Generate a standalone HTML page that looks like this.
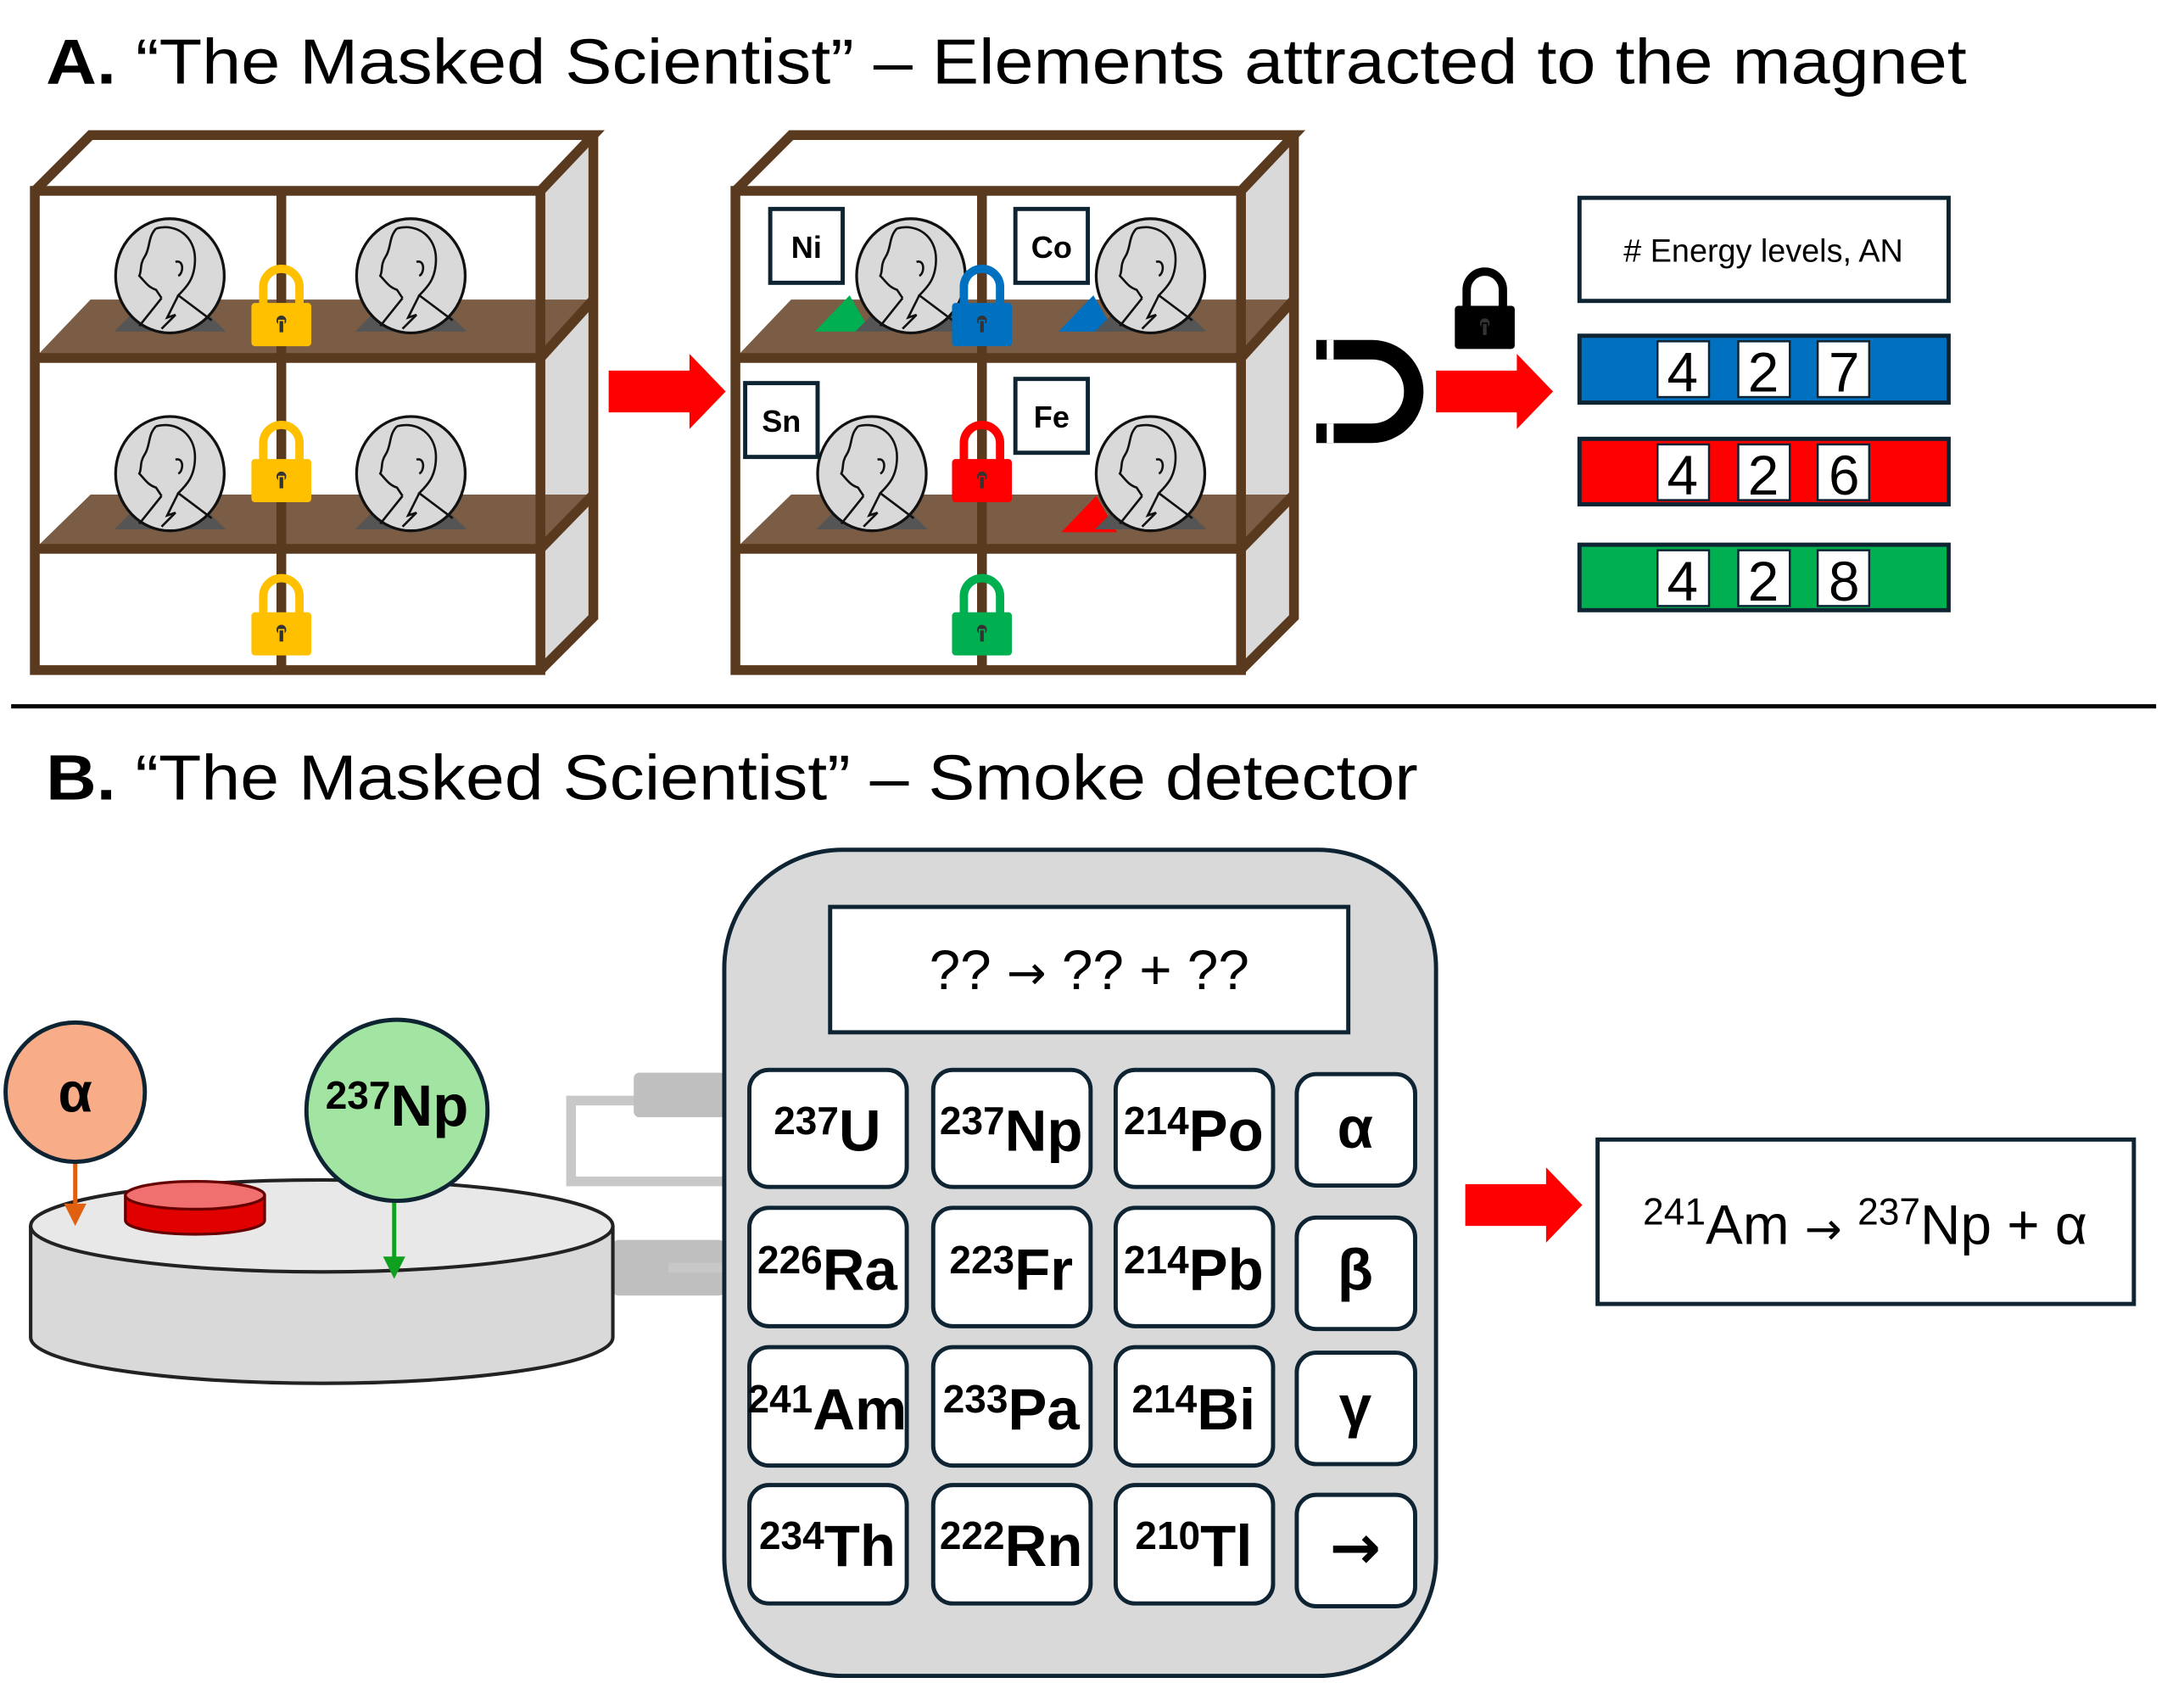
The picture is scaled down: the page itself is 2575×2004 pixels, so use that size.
<!DOCTYPE html>
<html><head><meta charset="utf-8"><style>html,body{margin:0;padding:0;background:#fff}svg{display:block}</style></head><body>
<svg width="2575" height="2004" viewBox="0 0 1568 1220.3" xmlns="http://www.w3.org/2000/svg" font-family="Liberation Sans, sans-serif">
<defs>
<g id="coin">
  <polygon points="-40,40 -28,28 28,28 40,40" fill="#555"/>
  <ellipse cx="0" cy="0" rx="39" ry="41" fill="#d9d9d9" stroke="#111" stroke-width="2"/>
  <path d="M-10,-34 C5,-38 18,-28 18,-12 C18,2 12,8 6,14 L30,32 M-10,-34 C-16,-28 -14,-20 -18,-14 C-22,-8 -20,-4 -22,0 C-18,4 -16,8 -10,10 L-6,16 M6,14 L-2,30 L4,28 L-6,38 M-6,16 L-22,36 M4,-10 C10,-12 10,-2 6,0" fill="none" stroke="#111" stroke-width="1.6"/>
</g>
<g id="lock">
  <path d="M-13,0 V-12 A13,13 0 0 1 13,-12 V0" fill="none" stroke-width="6" stroke="inherit"/>
  <rect x="-21" y="0" width="42" height="30" rx="2"/>
  <circle cx="0" cy="12" r="4" fill="#333"/>
  <rect x="-1.8" y="12" width="3.6" height="9" fill="#333"/>
</g>
<g id="arrow"><polygon points="0,12 58,12 58,0 84,27 58,54 58,42 0,42" fill="#f00"/></g>
<g id="shelf">
  <polygon points="363,40 401,0 401,346 363,384" fill="#d9d9d9"/>
  <polygon points="0,160 40,118 401,118 363,160" fill="#7b5c44"/>
  <polygon points="0,297 40,258 401,258 363,297" fill="#7b5c44"/>
  <g fill="none" stroke="#5a3a1e" stroke-width="7" stroke-linejoin="miter">
    <rect x="0" y="40" width="363" height="344"/>
    <polyline points="0,40 40,0 401,0 363,40"/>
    <polyline points="401,0 401,346 363,384"/>
    <line x1="177" y1="40" x2="177" y2="384"/>
    <line x1="0" y1="160" x2="363" y2="160"/>
    <line x1="0" y1="297" x2="363" y2="297"/>
    <line x1="363" y1="160" x2="401" y2="118"/>
    <line x1="363" y1="297" x2="401" y2="258"/>
  </g>
</g>
</defs>

<text x="33" y="60" font-size="46" textLength="1379" lengthAdjust="spacingAndGlyphs"><tspan font-weight="bold">A.</tspan> “The Masked Scientist” – Elements attracted to the magnet</text>

<g transform="translate(25,97)"><use href="#shelf"/></g>
<use href="#coin" x="122" y="198"/><use href="#coin" x="295" y="198"/>
<use href="#coin" x="122" y="340"/><use href="#coin" x="295" y="340"/>
<g fill="#ffc000" stroke="#ffc000"><use href="#lock" x="202" y="218"/><use href="#lock" x="202" y="330"/><use href="#lock" x="202" y="440"/></g>

<use href="#arrow" x="437" y="254"/>

<g transform="translate(528,97)"><use href="#shelf"/></g>
<polygon points="585,238 610,212 625,238" fill="#00b050"/>
<polygon points="760,238 785,212 800,238" fill="#0070c0"/>
<polygon points="762,382 787,356 802,382" fill="#f00"/>
<use href="#coin" x="654" y="198"/><use href="#coin" x="826" y="198"/>
<use href="#coin" x="626" y="340"/><use href="#coin" x="826" y="340"/>
<use href="#lock" x="705" y="218" fill="#0070c0" stroke="#0070c0"/>
<use href="#lock" x="705" y="330" fill="#f00" stroke="#f00"/>
<use href="#lock" x="705" y="440" fill="#00b050" stroke="#00b050"/>
<g fill="#fff" stroke="#0e2433" stroke-width="3">
<rect x="553" y="150" width="52" height="53"/><rect x="729" y="150" width="52" height="53"/>
<rect x="535" y="275" width="52" height="53"/><rect x="729" y="272" width="52" height="53"/>
</g>
<g font-size="22" font-weight="bold" text-anchor="middle">
<text x="579" y="185">Ni</text><text x="755" y="185">Co</text><text x="561" y="310">Sn</text><text x="755" y="307">Fe</text>
</g>

<path d="M945,251 H985 A30,30 0 0 1 985,311 H945" fill="none" stroke="#000" stroke-width="14"/>
<line x1="955" y1="244" x2="955" y2="258" stroke="#fff" stroke-width="5"/>
<line x1="955" y1="304" x2="955" y2="318" stroke="#fff" stroke-width="5"/>
<use href="#lock" x="1066" y="220" fill="#000" stroke="#000"/>
<use href="#arrow" x="1031" y="254"/>

<rect x="1134" y="142" width="265" height="74" fill="#fff" stroke="#0e2433" stroke-width="3"/>
<text x="1266" y="188" font-size="23" text-anchor="middle">#  Energy levels, AN</text>

<g stroke="#0e2433" stroke-width="3">
<rect x="1134" y="241" width="265" height="48" fill="#0070c0"/>
<rect x="1134" y="315" width="265" height="47" fill="#f00"/>
<rect x="1134" y="391" width="265" height="47" fill="#00b050"/>
</g>
<g fill="#fff" stroke="#0e2433" stroke-width="1.5">
<rect x="1190" y="245" width="37" height="40"/><rect x="1248" y="245" width="37" height="40"/><rect x="1305" y="245" width="37" height="40"/>
<rect x="1190" y="319" width="37" height="40"/><rect x="1248" y="319" width="37" height="40"/><rect x="1305" y="319" width="37" height="40"/>
<rect x="1190" y="395" width="37" height="40"/><rect x="1248" y="395" width="37" height="40"/><rect x="1305" y="395" width="37" height="40"/>
</g>
<g font-size="40" text-anchor="middle">
<text x="1208" y="281">4</text><text x="1266" y="281">2</text><text x="1324" y="281">7</text>
<text x="1208" y="355">4</text><text x="1266" y="355">2</text><text x="1324" y="355">6</text>
<text x="1208" y="431">4</text><text x="1266" y="431">2</text><text x="1324" y="431">8</text>
</g>

<line x1="8" y1="507" x2="1548" y2="507" stroke="#000" stroke-width="3"/>

<text x="33" y="574" font-size="46" textLength="985" lengthAdjust="spacingAndGlyphs"><tspan font-weight="bold">B.</tspan> “The Masked Scientist” – Smoke detector</text>

<path d="M470,790 H410 V848 H520" fill="none" stroke="#c8c8c8" stroke-width="7"/>
<rect x="455" y="770" width="66" height="32" rx="4" fill="#bfbfbf"/>
<rect x="440" y="890" width="80" height="40" rx="4" fill="#bfbfbf"/>
<line x1="480" y1="910" x2="520" y2="910" stroke="#c8c8c8" stroke-width="7"/>

<path d="M22,880 V960 A209,33 0 0 0 440,960 V880" fill="#d9d9d9" stroke="#222" stroke-width="2.5"/>
<ellipse cx="231" cy="880" rx="209" ry="33" fill="#e8e8e8" stroke="#222" stroke-width="2.5"/>
<path d="M90,858 V876 A50,10 0 0 0 190,876 V858" fill="#e00000" stroke="#600" stroke-width="2"/>
<ellipse cx="140" cy="858" rx="50" ry="10" fill="#f07070" stroke="#600" stroke-width="2"/>
<line x1="54" y1="834" x2="54" y2="868" stroke="#e06010" stroke-width="3"/>
<polygon points="46,864 62,864 54,880" fill="#e06010"/>
<line x1="283" y1="862" x2="283" y2="906" stroke="#10a020" stroke-width="3"/>
<polygon points="275,902 291,902 283,918" fill="#10a020"/>
<circle cx="54" cy="784" r="50" fill="#f8ac88" stroke="#0e2433" stroke-width="3"/>
<text x="54" y="798" font-size="40" font-weight="bold" text-anchor="middle">α</text>
<circle cx="285" cy="797" r="65" fill="#a2e4a2" stroke="#0e2433" stroke-width="3"/>
<text x="285" y="808" font-size="42" font-weight="bold" text-anchor="middle"><tspan font-size="28" dy="-12">237</tspan><tspan dy="12">Np</tspan></text>

<rect x="520" y="610" width="511" height="593" rx="85" fill="#d9d9d9" stroke="#0e2433" stroke-width="3"/>
<rect x="596" y="651" width="372" height="90" fill="#fff" stroke="#0e2433" stroke-width="3"/>
<text x="782" y="710" font-size="40" text-anchor="middle">?? <tspan font-family="DejaVu Sans, sans-serif" font-size="34">→</tspan> ?? + ??</text>
<g fill="#fff" stroke="#0e2433" stroke-width="3">
<rect x="538" y="768" width="113" height="84" rx="14"/><rect x="670" y="768" width="113" height="84" rx="14"/><rect x="801" y="768" width="113" height="84" rx="14"/><rect x="931" y="771" width="85" height="80" rx="14"/>
<rect x="538" y="867" width="113" height="85" rx="14"/><rect x="670" y="867" width="113" height="85" rx="14"/><rect x="801" y="867" width="113" height="85" rx="14"/><rect x="931" y="874" width="85" height="80" rx="14"/>
<rect x="538" y="967" width="113" height="85" rx="14"/><rect x="670" y="967" width="113" height="85" rx="14"/><rect x="801" y="967" width="113" height="85" rx="14"/><rect x="931" y="971" width="85" height="80" rx="14"/>
<rect x="538" y="1066" width="113" height="85" rx="14"/><rect x="670" y="1066" width="113" height="85" rx="14"/><rect x="801" y="1066" width="113" height="85" rx="14"/><rect x="931" y="1073" width="85" height="80" rx="14"/>
</g>
<g font-size="42" font-weight="bold" text-anchor="middle">
<text x="594" y="826"><tspan font-size="28" dy="-12">237</tspan><tspan dy="12">U</tspan></text>
<text x="726" y="826"><tspan font-size="28" dy="-12">237</tspan><tspan dy="12">Np</tspan></text>
<text x="857" y="826"><tspan font-size="28" dy="-12">214</tspan><tspan dy="12">Po</tspan></text>
<text x="973" y="824">α</text>
<text x="594" y="926"><tspan font-size="28" dy="-12">226</tspan><tspan dy="12">Ra</tspan></text>
<text x="726" y="926"><tspan font-size="28" dy="-12">223</tspan><tspan dy="12">Fr</tspan></text>
<text x="857" y="926"><tspan font-size="28" dy="-12">214</tspan><tspan dy="12">Pb</tspan></text>
<text x="973" y="926">β</text>
<text x="594" y="1026"><tspan font-size="28" dy="-12">241</tspan><tspan dy="12">Am</tspan></text>
<text x="726" y="1026"><tspan font-size="28" dy="-12">233</tspan><tspan dy="12">Pa</tspan></text>
<text x="857" y="1026"><tspan font-size="28" dy="-12">214</tspan><tspan dy="12">Bi</tspan></text>
<text x="973" y="1024">γ</text>
<text x="594" y="1124"><tspan font-size="28" dy="-12">234</tspan><tspan dy="12">Th</tspan></text>
<text x="726" y="1124"><tspan font-size="28" dy="-12">222</tspan><tspan dy="12">Rn</tspan></text>
<text x="857" y="1124"><tspan font-size="28" dy="-12">210</tspan><tspan dy="12">Tl</tspan></text>
<text x="973" y="1126" font-family="DejaVu Sans, sans-serif" font-size="44">→</text>
</g>

<use href="#arrow" x="1052" y="838"/>
<rect x="1147" y="818" width="385" height="118" fill="#fff" stroke="#0e2433" stroke-width="3"/>
<text x="1339" y="893" font-size="40" text-anchor="middle"><tspan font-size="27" dy="-14">241</tspan><tspan dy="14">Am </tspan><tspan font-family="DejaVu Sans, sans-serif" font-size="32">→</tspan><tspan> </tspan><tspan font-size="27" dy="-14">237</tspan><tspan dy="14">Np + α</tspan></text>
</svg>
</body></html>
